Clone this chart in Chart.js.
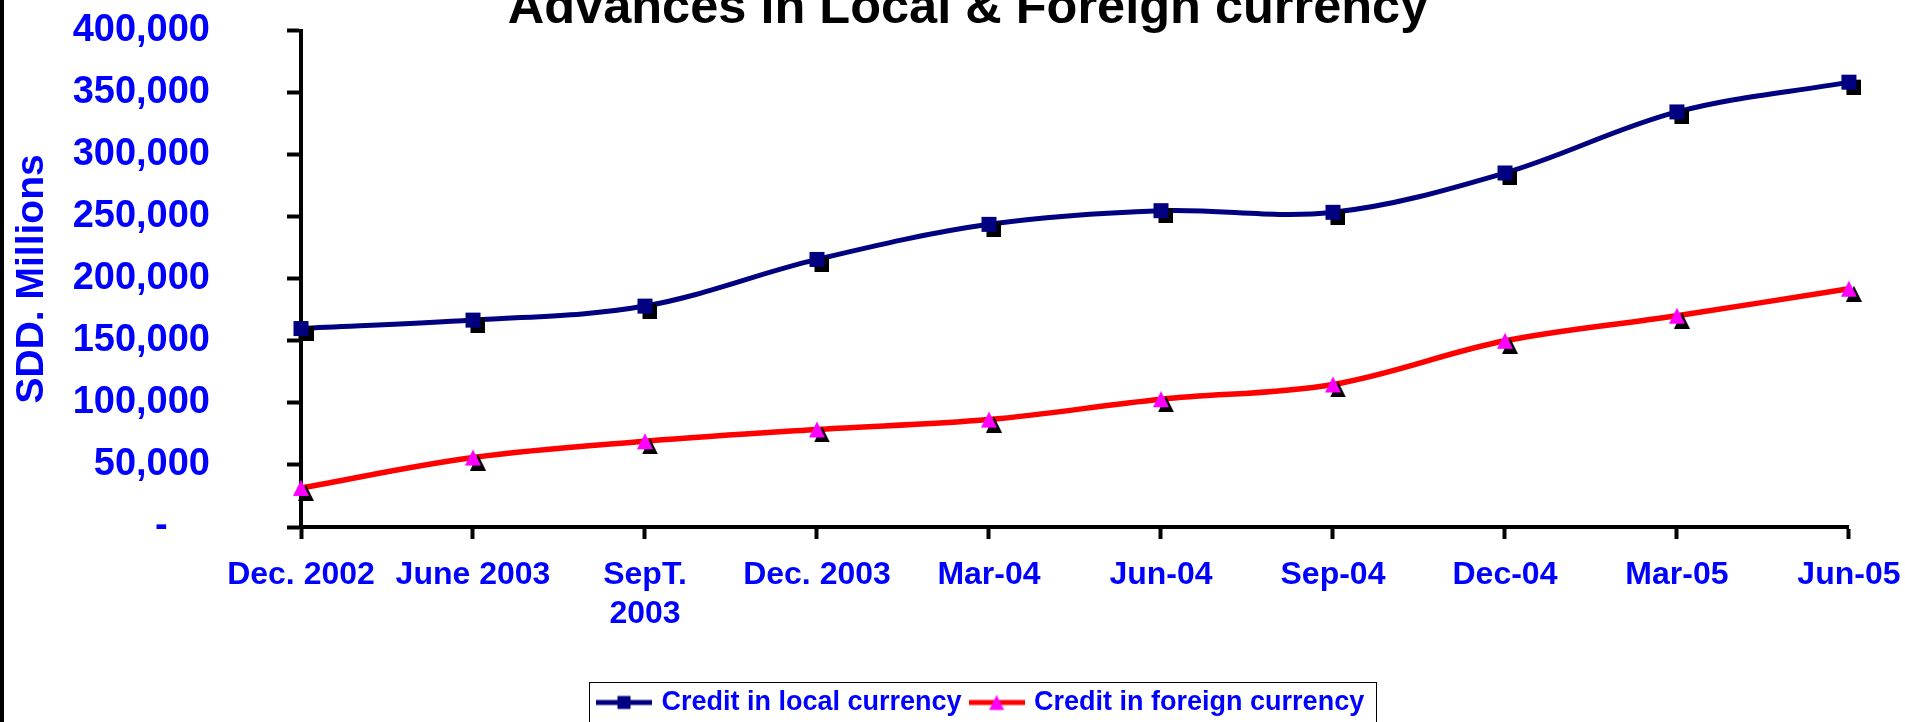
<!DOCTYPE html>
<html>
<head>
<meta charset="utf-8">
<script src="https://cdn.jsdelivr.net/npm/chart.js@4.4.1/dist/chart.umd.min.js"></script>
<style>
html, body { margin: 0; padding: 0; background: #fff; overflow: hidden; width: 1905px; height: 722px; }
#wrap { position: absolute; left: 0; top: -69px; width: 1917px; height: 795px; }
#edge { position: absolute; left: 0; top: 0; width: 4px; height: 722px; background: #000; }
</style>
</head>
<body>
<div id="wrap"><canvas id="c"></canvas></div>
<div id="edge"></div>
<script>
// ---- data ----
const chartTitle = 'Advances in Local & Foreign currency';
const yAxisTitle = 'SDD. Millions';
const categories = ['Dec. 2002', 'June 2003', ['SepT.', '2003'], 'Dec. 2003', 'Mar-04', 'Jun-04', 'Sep-04', 'Dec-04', 'Mar-05', 'Jun-05'];
const seriesNames = ['Credit in local currency', 'Credit in foreign currency'];
const localCredit = [160000, 166800, 178100, 215700, 244000, 255000, 253700, 285400, 334600, 358600];
const foreignCredit = [31500, 56000, 69100, 78600, 86600, 103000, 114900, 150100, 170300, 192100];
const yTickValues = [0, 50000, 100000, 150000, 200000, 250000, 300000, 350000, 400000];
const yTickLabels = ['-    ', '50,000', '100,000', '150,000', '200,000', '250,000', '300,000', '350,000', '400,000'];

// ---- styling ----
const BLUE = '#0000FF';
const NAVY = '#000080';
const RED = '#FF0000';
const MAGENTA = '#FF00FF';
Chart.defaults.font.family = '"Liberation Sans", Arial, Helvetica, sans-serif';

function markerCanvas(kind, color, s, d) {
  const c = document.createElement('canvas');
  c.width = s + 2 * d; c.height = s + 2 * d;
  const g = c.getContext('2d');
  const shape = (off, fill) => {
    g.fillStyle = fill;
    if (kind === 'square') {
      g.fillRect(d + off, d + off, s, s);
    } else {
      g.beginPath();
      g.moveTo(d + off + s / 2, d + off);
      g.lineTo(d + off + s, d + off + s);
      g.lineTo(d + off, d + off + s);
      g.closePath();
      g.fill();
    }
  };
  shape(d, '#000');
  shape(0, color);
  return c;
}

function legendSymbol(kind, lineColor, markColor, w, h, s) {
  const c = document.createElement('canvas');
  c.width = w; c.height = h;
  const g = c.getContext('2d');
  g.strokeStyle = lineColor; g.lineWidth = 5;
  g.beginPath(); g.moveTo(0, h / 2); g.lineTo(w, h / 2); g.stroke();
  g.fillStyle = markColor;
  const cx = w / 2, cy = h / 2;
  if (kind === 'square') {
    g.fillRect(cx - s / 2, cy - s / 2, s, s);
  } else {
    g.beginPath();
    g.moveTo(cx, cy - s / 2);
    g.lineTo(cx + s / 2, cy + s / 2);
    g.lineTo(cx - s / 2, cy + s / 2);
    g.closePath(); g.fill();
  }
  return c;
}

const sqMarker = markerCanvas('square', NAVY, 15, 5);
const triMarker = markerCanvas('triangle', MAGENTA, 16, 5);
const legendImgs = [
  legendSymbol('square', NAVY, NAVY, 56, 20, 13),
  legendSymbol('triangle', RED, MAGENTA, 56, 20, 15)
];

const TITLE_CX = 968;
const LEGEND_LEFT = 589;

const layoutTweaks = {
  id: 'layoutTweaks',
  afterLayout(chart) {
    const tb = chart.titleBlock;
    if (tb) {
      const d = TITLE_CX - (tb.left + tb.right) / 2;
      tb.left += d; tb.right += d;
    }
    const lg = chart.legend;
    if (lg) {
      const w = lg.right - lg.left;
      lg.left = LEGEND_LEFT; lg.right = LEGEND_LEFT + w;
    }
  },
  afterDraw(chart) {
    const lg = chart.legend;
    if (!lg || !lg.legendHitBoxes || !lg.legendHitBoxes.length) return;
    const hb = lg.legendHitBoxes;
    const first = hb[0], last = hb[hb.length - 1];
    const cy = first.top + first.height / 2;
    const x0 = first.left - 11;
    const x1 = last.left + last.width + 12;
    const ctx = chart.ctx;
    ctx.save();
    ctx.strokeStyle = '#000';
    ctx.lineWidth = 1;
    ctx.strokeRect(Math.round(x0) + 0.5, Math.round(cy - 21) + 0.5, Math.round(x1 - x0), 42);
    ctx.restore();
  }
};

new Chart(document.getElementById('c'), {
  type: 'line',
  data: {
    labels: categories,
    datasets: [
      {
        label: seriesNames[0],
        data: localCredit,
        borderColor: NAVY,
        backgroundColor: NAVY,
        borderWidth: 5,
        pointStyle: sqMarker,
        pointRadius: 8,
        pointHoverRadius: 8,
        tension: 0.35,
        fill: false,
        clip: false
      },
      {
        label: seriesNames[1],
        data: foreignCredit,
        borderColor: RED,
        backgroundColor: MAGENTA,
        borderWidth: 5.5,
        pointStyle: triMarker,
        pointRadius: 8,
        pointHoverRadius: 8,
        tension: 0.35,
        fill: false,
        clip: false
      }
    ]
  },
  options: {
    responsive: true,
    maintainAspectRatio: false,
    animation: false,
    events: [],
    layout: { padding: 0 },
    plugins: {
      tooltip: { enabled: false },
      title: {
        display: true,
        text: chartTitle,
        color: '#000',
        font: { size: 50.5, weight: 'bold', lineHeight: 0.8 },
        padding: { top: 57.3, bottom: 2 }
      },
      legend: {
        display: true,
        position: 'bottom',
        align: 'start',
        labels: {
          color: BLUE,
          font: { size: 27, weight: 'bold' },
          usePointStyle: true,
          pointStyleWidth: 48,
          boxHeight: 27,
          padding: 11,
          generateLabels(chart) {
            const items = Chart.defaults.plugins.legend.labels.generateLabels(chart);
            items.forEach((it, i) => { it.pointStyle = legendImgs[i]; it.fontColor = BLUE; });
            return items;
          }
        }
      }
    },
    scales: {
      x: {
        type: 'category',
        offset: false,
        afterFit(s) { s.height = 151; },
        border: { display: true, color: '#000', width: 4 },
        grid: { display: true, drawOnChartArea: false, drawTicks: true, tickLength: 12, tickColor: '#000', tickWidth: 4 },
        ticks: {
          color: BLUE,
          font: { size: 32, weight: 'bold', lineHeight: 1.22 },
          padding: 16.5,
          autoSkip: false,
          maxRotation: 0,
          minRotation: 0
        }
      },
      y: {
        min: 0,
        max: 400000,
        afterFit(s) { s.width = 301; },
        border: { display: true, color: '#000', width: 4 },
        grid: { display: true, drawOnChartArea: false, drawTicks: true, tickLength: 14, tickColor: '#000', tickWidth: 4 },
        ticks: {
          stepSize: 50000,
          color: BLUE,
          font: { size: 38, weight: 'bold' },
          padding: 77,
          callback(v) { const i = yTickValues.indexOf(v); return i >= 0 ? yTickLabels[i] : ''; }
        },
        title: {
          display: true,
          text: yAxisTitle,
          color: BLUE,
          font: { size: 39, weight: 'bold', lineHeight: 1.2 },
          padding: { top: 8.6, bottom: 0 }
        }
      }
    }
  },
  plugins: [layoutTweaks]
});
</script>
</body>
</html>
